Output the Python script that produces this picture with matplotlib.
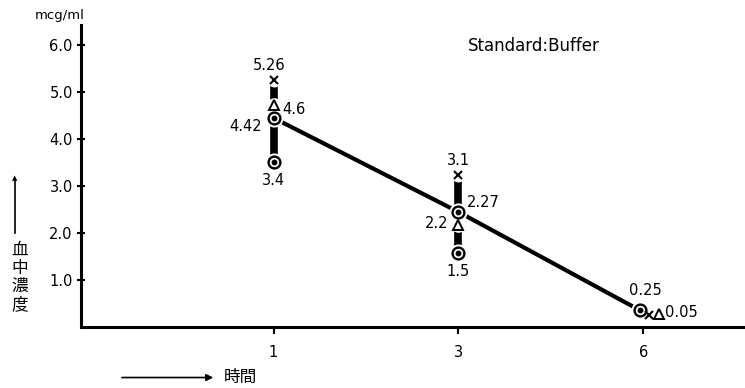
import numpy as np
import matplotlib.pyplot as plt

plt.rcParams['font.family'] = ['DejaVu Sans', 'Noto Sans CJK JP']

# time points (h) shown at equal spacing
times = ['1', '3', '6']
# marker heights as drawn in the chart
mean_vals = [4.45, 2.45, 0.36]     # circle-dot on the line
max_vals = [5.26, 3.23, 0.25]      # x markers
tri_vals = [4.72, 2.17, 0.28]      # triangles
low_vals = [3.51, 1.57, np.nan]    # lower circle-dot
# numbers written next to the markers
mean_txt = ['4.42', '2.27', '0.25']
max_txt = ['5.26', '3.1', '']
tri_txt = ['4.6', '2.2', '0.05']
low_txt = ['3.4', '1.5', '']
yticks = [1.0, 2.0, 3.0, 4.0, 5.0, 6.0]

xpos = np.arange(len(times))
# small sideways shifts where markers overlap (last point)
dx_mean = [0, 0, -0.02]
dx_max = [0, 0, 0.03]
dx_tri = [0, 0, 0.085]

fig = plt.figure(figsize=(7.45, 3.88), dpi=100)
ax = fig.add_axes([0.109, 0.157, 0.891, 0.779])
ax.set_xlim(-1.04, 2.55)
ax.set_ylim(0, 6.43)

# range bars
for i in range(len(times)):
    if np.isnan(low_vals[i]):
        continue
    ax.plot([xpos[i], xpos[i]], [max_vals[i], low_vals[i]], color='black',
            lw=5.5, solid_capstyle='butt', zorder=1)

# mean line
ax.plot(xpos + np.array(dx_mean), mean_vals, color='black', lw=3, zorder=2)

def circ(x, y):
    ax.plot(x, y, 'o', ms=12, mfc='white', mec='white', zorder=3)
    ax.plot(x, y, 'o', ms=8.5, mfc='white', mec='black', mew=1.7, zorder=4)
    ax.plot(x, y, 'o', ms=3.2, color='black', zorder=5)

for i in range(len(times)):
    circ(xpos[i] + dx_mean[i], mean_vals[i])
    if not np.isnan(low_vals[i]):
        circ(xpos[i], low_vals[i])
    ax.plot(xpos[i] + dx_max[i], max_vals[i], 'o', ms=9, mfc='white', mec='white', zorder=3)
    ax.plot(xpos[i] + dx_max[i], max_vals[i], 'x', ms=6, color='black', mew=1.5, zorder=4)
    ax.plot(xpos[i] + dx_tri[i], tri_vals[i], 'o', ms=9.5, mfc='white', mec='white', zorder=3)
    ax.plot(xpos[i] + dx_tri[i], tri_vals[i], '^', ms=7, mfc='white', mec='black', mew=1.4, zorder=4)

fs = 10.5
def lab(txt, x, y, off, ha, va):
    ax.annotate(txt, (x, y), xytext=off, textcoords='offset points', ha=ha, va=va, fontsize=fs)

# value labels
lab(max_txt[0], xpos[0], max_vals[0], (-3, 5), 'center', 'bottom')
lab(tri_txt[0], xpos[0], tri_vals[0], (6, -3), 'left', 'center')
lab(mean_txt[0], xpos[0], mean_vals[0], (-8, -6), 'right', 'center')
lab(low_txt[0], xpos[0], low_vals[0], (0, -8), 'center', 'top')
lab(max_txt[1], xpos[1], max_vals[1], (0, 5), 'center', 'bottom')
lab(mean_txt[1], xpos[1], mean_vals[1], (6, 7), 'left', 'center')
lab(tri_txt[1], xpos[1], tri_vals[1], (-7, 1), 'right', 'center')
lab(low_txt[1], xpos[1], low_vals[1], (0, -8), 'center', 'top')
lab(mean_txt[2], xpos[2] + dx_mean[2], mean_vals[2], (4, 9), 'center', 'bottom')
lab(tri_txt[2], xpos[2] + dx_tri[2], tri_vals[2], (4, 1), 'left', 'center')

ax.text(0.583, 0.93, 'Standard:Buffer', transform=ax.transAxes, fontsize=12, va='center')

# axes styling
for s in ['top', 'right']:
    ax.spines[s].set_visible(False)
ax.spines['left'].set_linewidth(2.2)
ax.spines['bottom'].set_linewidth(2.2)
ax.set_xticks(xpos)
ax.set_xticklabels(times, fontsize=fs)
ax.set_yticks(yticks)
ax.set_yticklabels([f'{v:.1f}' for v in yticks], fontsize=fs)
ax.tick_params(axis='y', direction='inout', length=6, width=1.5, pad=3)
ax.tick_params(axis='x', direction='out', length=5, width=1.5, pad=8)

fig.text(0.047, 0.96, 'mcg/ml', fontsize=9.5, va='center')

# axis captions with arrows
fig.add_artist(plt.Line2D([0.02, 0.02], [0.40, 0.535], color='black', lw=1.2))
fig.text(0.02, 0.54, '▲', fontsize=5, ha='center', va='center')
fig.text(0.026, 0.285, '血\n中\n濃\n度', fontsize=12, ha='center', va='center',
         family=['Noto Sans CJK JP'], linespacing=1.1)
ax.annotate('', xy=(0.29, 0.027), xytext=(0.16, 0.027), xycoords='figure fraction',
            arrowprops=dict(arrowstyle='-|>', color='black', lw=1.2, mutation_scale=10))
fig.text(0.30, 0.027, '時間', fontsize=12, va='center', family=['Noto Sans CJK JP'])

fig.savefig('out.png', dpi=100)
